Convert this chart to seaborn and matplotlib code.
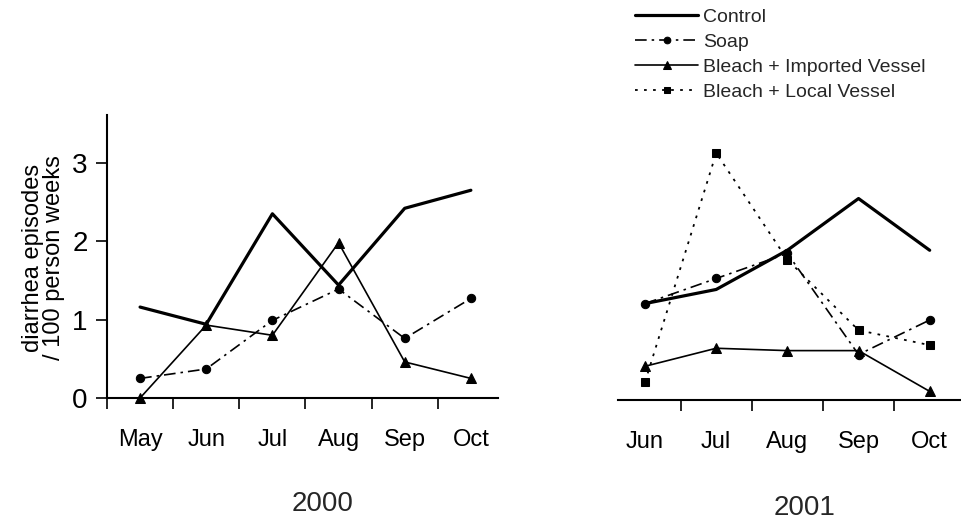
import numpy as np
import pandas as pd
import matplotlib
matplotlib.use("Agg")
import matplotlib.pyplot as plt
import seaborn as sns

# ---- data ----
months_2000 = ["May", "Jun", "Jul", "Aug", "Sep", "Oct"]
control_2000 = [1.16, 0.94, 2.35, 1.44, 2.42, 2.65]
soap_2000 = [0.25, 0.37, 0.99, 1.39, 0.76, 1.27]
bleach_imp_2000 = [0.0, 0.93, 0.80, 1.98, 0.46, 0.25]

months_2001 = ["Jun", "Jul", "Aug", "Sep", "Oct"]
control_2001 = [1.23, 1.41, 1.91, 2.57, 1.91]
soap_2001 = [1.23, 1.55, 1.87, 0.58, 1.02]
bleach_imp_2001 = [0.43, 0.66, 0.63, 0.63, 0.11]
bleach_local_2001 = [0.23, 3.15, 1.79, 0.89, 0.70]

years = ["2000", "2001"]
y_ticks = [0, 1, 2, 3]

sns.set_theme(style="white")
plt.rcParams["font.family"] = ["Liberation Sans", "DejaVu Sans"]

# line styles for each series
styles = {
    "Control": dict(color="black", lw=2.3, linestyle="-", marker=None),
    "Soap": dict(color="black", lw=1.2, linestyle=(0, (7, 3, 1.5, 3)), marker="o", ms=6),
    "Bleach + Imported Vessel": dict(color="black", lw=1.2, linestyle="-", marker="^", ms=7),
    "Bleach + Local Vessel": dict(color="black", lw=1.3, linestyle=(0, (1.5, 3.5)), marker="s", ms=6),
}

fig = plt.figure(figsize=(9.61, 5.22), dpi=100)
W, H = 961, 522
ax1 = fig.add_axes([107 / W, (H - 398) / H, (498 - 107) / W, (398 - 115) / H])
ax2 = fig.add_axes([618 / W, (H - 400) / H, (961 - 618) / W, (400 - 117) / H])


def draw(ax, months, series):
    df = pd.DataFrame({"month": months})
    for name, vals in series.items():
        df[name] = vals
        st = styles[name]
        sns.lineplot(data=df, x="month", y=name, ax=ax, label=name,
                     color=st["color"], lw=st["lw"], linestyle=st["linestyle"],
                     marker=st["marker"], markersize=st.get("ms", 6),
                     markeredgecolor="black", markerfacecolor="black",
                     clip_on=False, legend=False)


draw(ax1, months_2000, {"Control": control_2000, "Soap": soap_2000,
                        "Bleach + Imported Vessel": bleach_imp_2000})
draw(ax2, months_2001, {"Control": control_2001, "Soap": soap_2001,
                        "Bleach + Imported Vessel": bleach_imp_2001,
                        "Bleach + Local Vessel": bleach_local_2001})

for ax, months, xl in [(ax1, months_2000, (-0.5, 5.41)), (ax2, months_2001, (-0.38, 4.44))]:
    n = len(months)
    ax.set_ylim(0, 3.61)
    ax.set_xlim(*xl)
    # boundaries as major ticks, month names on minor ticks
    if ax is ax1:
        ax.set_xticks(np.arange(n) - 0.5)
    else:
        ax.set_xticks(np.arange(1, n) - 0.5)
    ax.set_xticklabels([])
    ax.set_xticks(np.arange(n), minor=True)
    ax.set_xticklabels(months, minor=True, fontsize=17)
    ax.tick_params(axis="x", which="major", direction="out", length=8, width=1.2,
                   bottom=True, color="black")
    ax.tick_params(axis="x", which="minor", length=0, pad=22, labelcolor="black")
    ax.set_xlabel("")
    ax.set_ylabel("")
    for s in ["top", "right"]:
        ax.spines[s].set_visible(False)
    ax.spines["bottom"].set_color("black")
    ax.spines["bottom"].set_linewidth(1.5)
    ax.set_facecolor("none")

ax1.spines["left"].set_color("black")
ax1.spines["left"].set_linewidth(1.5)
ax1.set_yticks(y_ticks)
ax1.set_yticklabels([str(t) for t in y_ticks], fontsize=20)
ax1.tick_params(axis="y", direction="out", length=8, width=1.2, left=True,
                color="black", pad=6, labelcolor="black")

ax2.spines["left"].set_visible(False)
ax2.set_yticks([])

ax1.set_ylabel("diarrhea episodes\n/ 100 person weeks", fontsize=17,
               color="black", linespacing=0.95)
ax1.yaxis.set_label_coords(-0.107, 0.495)

fig.text(323 / W, 1 - 504 / H, years[0], ha="center", va="center", fontsize=20)
fig.text(805 / W, 1 - 508 / H, years[1], ha="center", va="center", fontsize=20)

handles, labels = ax2.get_legend_handles_labels()
fig.legend(handles, labels, loc="upper left", bbox_to_anchor=(635 / W, 1 - 8 / H),
           frameon=False, fontsize=14, handlelength=3.25, handletextpad=0.25,
           labelspacing=0.38, borderpad=0, borderaxespad=0, markerscale=0.8,
           numpoints=1)

fig.savefig("out.png", dpi=100)
